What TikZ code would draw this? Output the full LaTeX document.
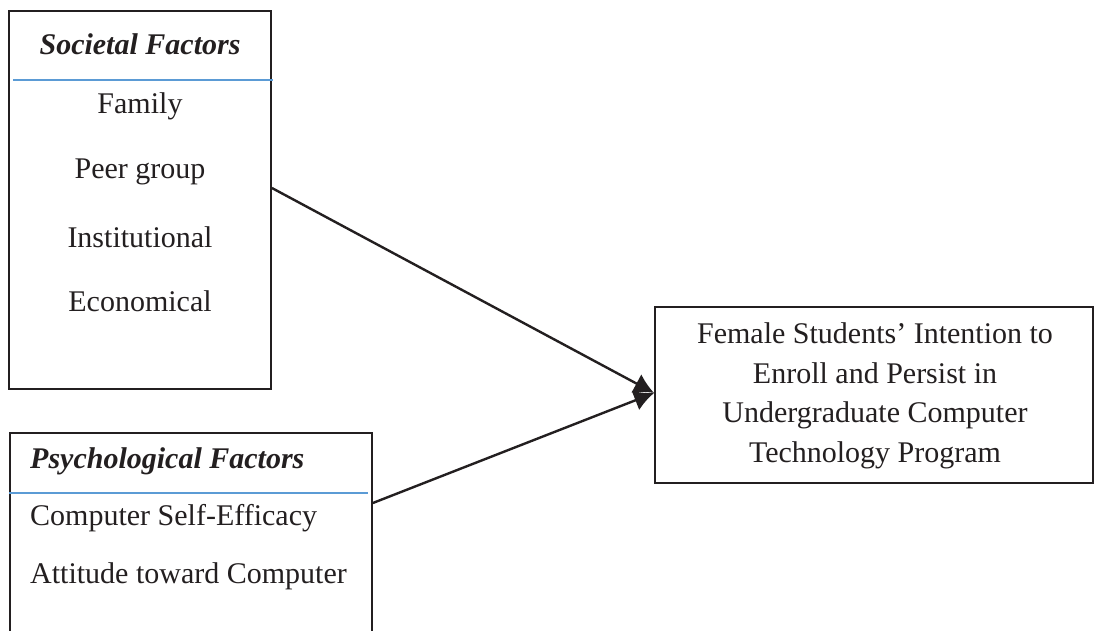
\documentclass[tikz,border=0pt]{standalone}
\usepackage{fontspec}
\setmainfont{Liberation Serif}
\usetikzlibrary{arrows.meta}
\definecolor{ink}{RGB}{35,31,32}
\definecolor{rule}{RGB}{91,155,213}
\begin{document}
\begin{tikzpicture}[x=1pt,y=1pt,
  box/.style={draw=ink,line width=1.8pt,fill=none},
  txt/.style={text=ink,font=\fontsize{30}{39.5}\selectfont,inner sep=0pt},
  ttl/.style={txt,font=\fontsize{30}{36}\selectfont\bfseries\itshape},
  divider/.style={draw=rule,line width=1.3pt},
  link/.style={draw=ink,line width=2.4pt,-{Latex[length=20pt,width=21pt]}}]
\clip (0,0) rectangle (1094,631);
\fill[white] (0,0) rectangle (1094,631);

% Societal factors box
\node[box,minimum width=262pt,minimum height=378pt,inner sep=0pt] (soc) at (140,431) {};
\node[ttl] (socT) at (140,587) {Societal Factors};
\draw[divider] (13,551) coordinate (sd1) -- (273,551) coordinate (sd2);
\node[txt] (fam) at (140,525) {Family};
\node[txt] (peer) at (140,459) {Peer group};
\node[txt] (inst) at (140,394) {Institutional};
\node[txt] (econ) at (140,330) {Economical};

% Psychological factors box (runs past the lower edge)
\node[box,minimum width=362pt,minimum height=208pt,inner sep=0pt] (psy) at (191,94) {};
\node[ttl,anchor=west] (psyT) at (30,170) {Psychological Factors};
\draw[divider] (9,138) coordinate (pd1) -- (368,138) coordinate (pd2);
\node[txt,anchor=west] (cse) at (30,113) {Computer Self-Efficacy};
\node[txt,anchor=west] (atc) at (30,55) {Attitude toward Computer};

% Outcome box
\node[box,minimum width=438pt,minimum height=176pt,inner sep=0pt] (tgt) at (874,236) {};
\node[txt,align=center] (tgtT) at (875,235) {Female Students’ Intention to\\Enroll and Persist in\\Undergraduate Computer\\Technology Program};

% Connectors
\draw[link] ([yshift=12pt]soc.east) -- ([yshift=2pt]tgt.west);
\draw[link] ([yshift=34pt]psy.east) -- ([yshift=2pt]tgt.west);
\end{tikzpicture}
\end{document}
